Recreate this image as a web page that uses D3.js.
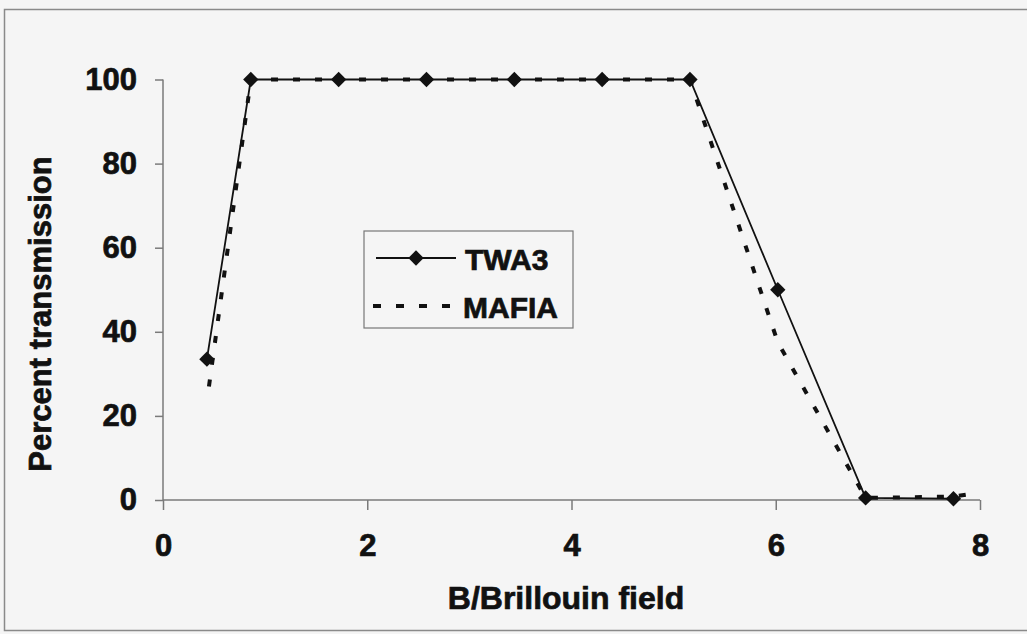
<!DOCTYPE html>
<html><head><meta charset="utf-8">
<script src="https://cdn.jsdelivr.net/npm/d3@7"></script>
<style>
html,body{margin:0;padding:0;background:#f5f5f5;}
svg{display:block;}
text{font-family:"Liberation Sans",Arial,sans-serif;font-weight:bold;fill:#111;stroke:#111;stroke-width:0.7px;}
</style></head><body>
<svg id="chart" width="1027" height="634"></svg>
<script>
// Data
const twa3X = [0.43, 0.86, 1.72, 2.58, 3.44, 4.30, 5.16, 6.02, 6.88, 7.74];
const twa3Y = [33.5, 100, 100, 100, 100, 100, 100, 50, 0.5, 0.3];
const mafiaX = [0.45, 0.86, 1.72, 2.58, 3.44, 4.30, 5.16, 6.02, 6.88, 7.74, 8.0];
const mafiaY = [27, 100, 100, 100, 100, 100, 100, 37.5, 0.5, 0.8, 1.8];
const xTicks = [0, 2, 4, 6, 8];
const yTicks = [0, 20, 40, 60, 80, 100];
const seriesNames = ["TWA3", "MAFIA"];

const svg = d3.select("#chart");
svg.append("rect").attr("x",0).attr("y",0).attr("width",1027).attr("height",634).attr("fill","#f5f5f5");
svg.append("rect").attr("x",4.5).attr("y",9.5).attr("width",1040).attr("height",621)
  .attr("fill","none").attr("stroke","#8a8a8a").attr("stroke-width",1.5);

const x = d3.scaleLinear().domain([0,8]).range([163,980]);
const y = d3.scaleLinear().domain([0,100]).range([500,79.5]);

const axisColor = "#7a7a7a";
const gx = svg.append("g").attr("transform","translate(0,500)")
  .call(d3.axisBottom(x).tickValues(xTicks).tickSize(10).tickPadding(24).tickFormat(d3.format("d")));
const gy = svg.append("g").attr("transform","translate(163,0)")
  .call(d3.axisLeft(y).tickValues(yTicks).tickSize(8).tickPadding(18).tickFormat(d3.format("d")));
[gx,gy].forEach(g=>{
  g.select(".domain").attr("stroke",axisColor).attr("stroke-width",1.5);
  g.selectAll(".tick line").attr("stroke",axisColor).attr("stroke-width",1.5);
  g.selectAll(".tick text").attr("fill","#111").attr("stroke","#111").attr("stroke-width",0.7)
   .style("font-family","Liberation Sans, Arial, sans-serif")
   .style("font-weight","bold").style("font-size","31px");
});
gx.select(".domain").attr("d","M163,0H980");
gy.select(".domain").attr("d","M0,500V79.5");

const line = d3.line().x(d=>x(d[0])).y(d=>y(d[1]));
const twa3 = twa3X.map((v,i)=>[v,twa3Y[i]]);
const mafia = mafiaX.map((v,i)=>[v,mafiaY[i]]);

svg.append("path").datum(twa3).attr("d",line).attr("fill","none")
  .attr("stroke","#111").attr("stroke-width",1.8);
svg.append("path").datum(mafia).attr("d",line).attr("fill","none")
  .attr("stroke","#111").attr("stroke-width",4).attr("stroke-dasharray","7,15");

const diamond = d3.symbol().type(d3.symbolDiamond2).size(150);
svg.selectAll(".mk").data(twa3).enter().append("path")
  .attr("d",diamond).attr("transform",d=>`translate(${x(d[0])},${y(d[1])})`).attr("fill","#111");

// Legend
const lg = svg.append("g");
lg.append("rect").attr("x",364).attr("y",231).attr("width",209).attr("height",97)
  .attr("fill","#f5f5f5").attr("stroke","#777").attr("stroke-width",1.2);
lg.append("line").attr("x1",376).attr("x2",456).attr("y1",258).attr("y2",258)
  .attr("stroke","#111").attr("stroke-width",1.8);
lg.append("path").attr("d",diamond).attr("transform","translate(416,258)").attr("fill","#111");
lg.append("line").attr("x1",373).attr("x2",460).attr("y1",306).attr("y2",306)
  .attr("stroke","#111").attr("stroke-width",4).attr("stroke-dasharray","8,15");
lg.append("text").attr("x",465).attr("y",270).style("font-size","30px").text(seriesNames[0]);
lg.append("text").attr("x",463).attr("y",318).style("font-size","30px").text(seriesNames[1]);

// Axis titles
svg.append("text").attr("x",566).attr("y",609).attr("text-anchor","middle")
  .style("font-size","32px").text("B/Brillouin field");
svg.append("text").attr("transform","translate(51,314) rotate(-90)").attr("text-anchor","middle")
  .style("font-size","31px").text("Percent transmission");
</script>
</body></html>
